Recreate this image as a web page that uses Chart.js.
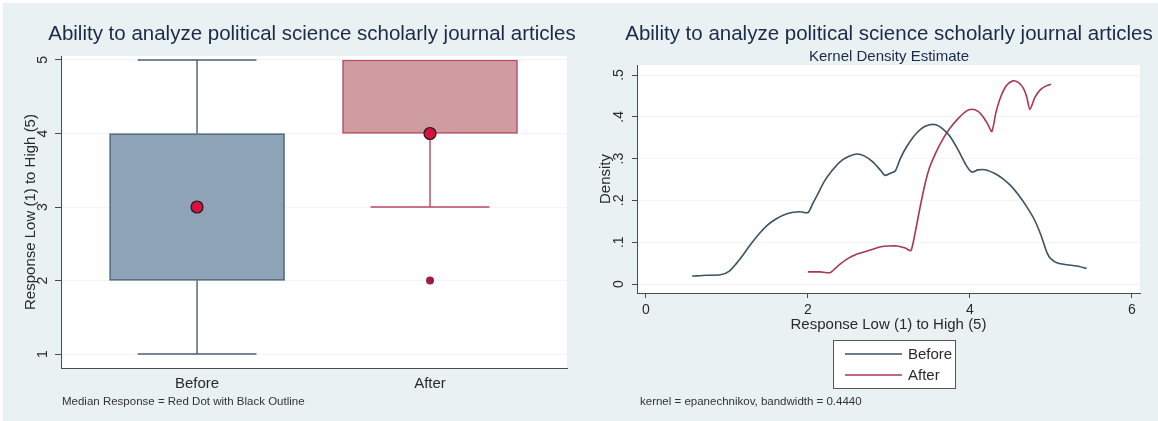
<!DOCTYPE html>
<html>
<head>
<meta charset="utf-8">
<script src="https://cdn.jsdelivr.net/npm/chart.js@4.4.1/dist/chart.umd.min.js"></script>
<style>
  html, body { margin: 0; padding: 0; background: #ffffff; }
  #wrap { position: relative; width: 1158px; height: 421px; background: #e9f1f3; overflow: hidden; }
  canvas { position: absolute; top: 0; }
  #boxCanvas { left: 0; }
  #kdeCanvas { left: 590px; }
  .edgeTop { position: absolute; left: 0; top: 0; width: 1158px; height: 3px; background: #fff; }
  .edgeLeft { position: absolute; left: 0; top: 0; width: 3px; height: 421px; background: #fff; }
  .txt { position: absolute; font-family: "Liberation Sans", Arial, sans-serif; white-space: nowrap; }
  .title { font-size: 20.5px; line-height: 24px; color: #1b2a46; transform: translateX(-50%); }
  .sub { font-size: 15px; line-height: 18px; color: #1b2a46; transform: translateX(-50%); }
  .note { font-size: 11.5px; line-height: 14px; color: #333; }
</style>
</head>
<body>
<div id="wrap">
  <div class="edgeTop"></div>
  <div class="edgeLeft"></div>
  <canvas id="boxCanvas" width="595" height="421"></canvas>
  <canvas id="kdeCanvas" width="568" height="421"></canvas>
  <div class="txt title" style="left:312px; top:21px;">Ability to analyze political science scholarly journal articles</div>
  <div class="txt title" style="left:889px; top:21px;">Ability to analyze political science scholarly journal articles</div>
  <div class="txt sub" style="left:889px; top:47px;">Kernel Density Estimate</div>
  <div class="txt note" style="left:62px; top:394px;">Median Response = Red Dot with Black Outline</div>
  <div class="txt note" style="left:640px; top:394px;">kernel = epanechnikov, bandwidth = 0.4440</div>
</div>
<script>
// ---------------- Data: box plot ----------------
const groups        = ['Before', 'After'];
const groupPos      = [1, 2];
const q1            = [2, 4];
const q3            = [4, 5];
const medians       = [3, 4];
const whiskerLow    = [1, 3];
const whiskerHigh   = [5, 5];
const outliers      = [[], [2]];
const boxYTicks     = [1, 2, 3, 4, 5];

// ---------------- Data: kernel density ----------------
const beforeX = [0.57,0.75,0.92,1.03,1.12,1.20,1.30,1.40,1.50,1.60,1.70,1.80,1.90,2.00,2.06,2.12,2.20,2.30,2.40,2.50,2.60,2.70,2.80,2.90,2.95,3.03,3.08,3.14,3.21,3.30,3.40,3.50,3.58,3.66,3.75,3.85,3.95,4.02,4.10,4.20,4.30,4.40,4.50,4.60,4.70,4.80,4.88,4.95,5.00,5.08,5.20,5.32,5.44];
const beforeY = [0.019,0.021,0.022,0.031,0.050,0.070,0.097,0.121,0.141,0.155,0.165,0.171,0.173,0.171,0.193,0.215,0.245,0.272,0.293,0.305,0.311,0.306,0.292,0.271,0.260,0.266,0.271,0.300,0.326,0.352,0.372,0.381,0.381,0.372,0.354,0.322,0.285,0.268,0.273,0.273,0.265,0.253,0.236,0.213,0.185,0.152,0.115,0.075,0.060,0.050,0.046,0.043,0.037];
const afterX  = [2.00,2.15,2.27,2.33,2.40,2.50,2.60,2.70,2.80,2.90,3.00,3.10,3.20,3.27,3.32,3.38,3.44,3.50,3.58,3.66,3.75,3.85,3.95,4.02,4.10,4.17,4.22,4.27,4.32,4.38,4.45,4.53,4.60,4.66,4.70,4.74,4.80,4.87,4.94,5.00];
const afterY  = [0.029,0.029,0.027,0.036,0.048,0.062,0.071,0.077,0.083,0.089,0.091,0.091,0.086,0.080,0.120,0.180,0.235,0.278,0.315,0.345,0.372,0.395,0.413,0.418,0.413,0.398,0.382,0.365,0.410,0.448,0.475,0.486,0.482,0.468,0.448,0.418,0.446,0.465,0.474,0.478];
const kdeXTicks      = [0, 2, 4, 6];
const kdeYTicks      = [0, 0.1, 0.2, 0.3, 0.4, 0.5];
const kdeYTickLabels = ['0', '.1', '.2', '.3', '.4', '.5'];

// ---------------- Styles ----------------
const FONT = '"Liberation Sans", Arial, sans-serif';
const AXIS_COLOR = '#4a4a4a';
const TEXT_COLOR = '#2a2a2a';
const GRID_COLOR = '#f3f4f4';
const boxFill   = ['#8fa3b6', '#cf9ca2'];
const boxBorder = ['#45617a', '#b9495e'];
const CAP_HALF  = 0.255;   // whisker cap half width (x units)

const plotBg = {
  id: 'plotBg',
  beforeDraw(chart) {
    const a = chart.chartArea, c = chart.ctx;
    c.save();
    c.fillStyle = '#ffffff';
    c.fillRect(a.left, a.top, a.right - a.left, a.bottom - a.top);
    c.restore();
  }
};

// whisker segments built from data values
function whiskerData(i) {
  const x = groupPos[i], pts = [];
  if (whiskerLow[i] < q1[i]) {
    pts.push({x: x, y: whiskerLow[i]}, {x: x, y: q1[i]}, {x: x, y: null});
    pts.push({x: x - CAP_HALF, y: whiskerLow[i]}, {x: x + CAP_HALF, y: whiskerLow[i]}, {x: x, y: null});
  }
  if (whiskerHigh[i] > q3[i]) {
    pts.push({x: x, y: q3[i]}, {x: x, y: whiskerHigh[i]}, {x: x, y: null});
    pts.push({x: x - CAP_HALF, y: whiskerHigh[i]}, {x: x + CAP_HALF, y: whiskerHigh[i]});
  }
  return pts;
}

const outlierPts = [];
outliers.forEach((arr, i) => arr.forEach(v => outlierPts.push({x: groupPos[i], y: v})));

new Chart(document.getElementById('boxCanvas'), {
  type: 'bar',
  data: {
    datasets: [
      { type: 'scatter', label: 'Median', order: 0,
        data: medians.map((m, i) => ({x: groupPos[i], y: m})),
        pointRadius: 6, pointBackgroundColor: '#d6113d', pointBorderColor: '#1a1a1a', pointBorderWidth: 1.2 },
      { type: 'scatter', label: 'Outliers', order: 1,
        data: outlierPts,
        pointRadius: 4, pointBackgroundColor: '#9c1d44', pointBorderColor: '#9c1d44', pointBorderWidth: 0 },
      { type: 'bar', label: 'IQR', order: 2,
        data: q1.map((v, i) => ({x: groupPos[i], y: [v, q3[i]]})),
        backgroundColor: boxFill, borderColor: boxBorder, borderWidth: 1.5, borderSkipped: false,
        barThickness: 175 },
      { type: 'line', label: 'Whisker Before', order: 3, data: whiskerData(0),
        borderColor: '#4b6075', borderWidth: 1.4, pointRadius: 0, spanGaps: false, tension: 0 },
      { type: 'line', label: 'Whisker After', order: 4, data: whiskerData(1),
        borderColor: '#b84a60', borderWidth: 1.4, pointRadius: 0, spanGaps: false, tension: 0 }
    ]
  },
  options: {
    responsive: false, animation: false,
    layout: { padding: { left: 0, top: 56, right: 28, bottom: 23 } },
    plugins: { legend: { display: false }, tooltip: { enabled: false } },
    scales: {
      x: {
        type: 'linear', min: 0.416, max: 2.588, offset: false,
        afterBuildTicks: s => { s.ticks = groupPos.map(v => ({value: v})); },
        afterFit: s => { s.height = 30; },
        ticks: { callback: (v) => groups[groupPos.indexOf(v)], font: { family: FONT, size: 15 }, color: TEXT_COLOR, padding: 7, maxRotation: 0 },
        grid: { offset: false, drawOnChartArea: false, drawTicks: false },
        border: { display: true, color: AXIS_COLOR, width: 1 }
      },
      y: {
        type: 'linear', min: 0.81, max: 5.054, beginAtZero: false,
        afterBuildTicks: s => { s.ticks = boxYTicks.map(v => ({value: v})); },
        afterFit: s => { s.width = 61; },
        ticks: { font: { family: FONT, size: 14 }, color: TEXT_COLOR, minRotation: 90, maxRotation: 90, crossAlign: 'center', padding: 8 },
        grid: { color: GRID_COLOR, tickColor: AXIS_COLOR, tickLength: 6 },
        border: { display: true, color: AXIS_COLOR, width: 1 },
        title: { display: true, text: 'Response Low (1) to High (5)', font: { family: FONT, size: 15 }, color: TEXT_COLOR, padding: { top: 22, bottom: 0 } }
      }
    }
  },
  plugins: [plotBg]
});

// ---------------- KDE chart ----------------
const kdeLegend = {
  id: 'kdeLegend',
  afterDraw(chart) {
    const c = chart.ctx;
    const bx = 243, by = 340, bw = 122, bh = 48;
    c.save();
    c.fillStyle = '#ffffff';
    c.fillRect(bx, by, bw, bh);
    c.strokeStyle = '#555555';
    c.lineWidth = 1;
    c.strokeRect(bx + 0.5, by + 0.5, bw, bh);
    c.font = '15px ' + FONT;
    c.textBaseline = 'middle';
    c.textAlign = 'left';
    chart.data.datasets.forEach((ds, i) => {
      const y = by + 14 + i * 21;
      c.strokeStyle = ds.borderColor;
      c.lineWidth = 1.6;
      c.beginPath(); c.moveTo(bx + 12, y); c.lineTo(bx + 69, y); c.stroke();
      c.fillStyle = TEXT_COLOR;
      c.fillText(ds.label, bx + 75, y + 1);
    });
    c.restore();
  }
};

new Chart(document.getElementById('kdeCanvas'), {
  type: 'line',
  data: {
    datasets: [
      { label: 'Before', data: beforeX.map((x, i) => ({x: x, y: beforeY[i]})),
        borderColor: '#3a5262', borderWidth: 1.6, pointRadius: 0, tension: 0.25, fill: false },
      { label: 'After', data: afterX.map((x, i) => ({x: x, y: afterY[i]})),
        borderColor: '#a8384f', borderWidth: 1.6, pointRadius: 0, tension: 0.25, fill: false }
    ]
  },
  options: {
    responsive: false, animation: false,
    layout: { padding: { left: 0, top: 65, right: 18, bottom: 87 } },
    plugins: { legend: { display: false }, tooltip: { enabled: false } },
    scales: {
      x: {
        type: 'linear', min: -0.111, max: 6.099,
        afterBuildTicks: s => { s.ticks = kdeXTicks.map(v => ({value: v})); },
        afterFit: s => { s.height = 41; },
        ticks: { font: { family: FONT, size: 14 }, color: TEXT_COLOR, padding: 4, maxRotation: 0 },
        grid: { drawOnChartArea: false, tickColor: AXIS_COLOR, tickLength: 5 },
        border: { display: true, color: AXIS_COLOR, width: 1 },
        title: { display: true, text: 'Response Low (1) to High (5)', font: { family: FONT, size: 15 }, color: TEXT_COLOR, padding: 0 }
      },
      y: {
        type: 'linear', min: -0.0215, max: 0.524,
        afterBuildTicks: s => { s.ticks = kdeYTicks.map(v => ({value: v})); },
        afterFit: s => { s.width = 47; },
        ticks: { callback: (v, i) => kdeYTickLabels[i], font: { family: FONT, size: 14 }, color: TEXT_COLOR, minRotation: 90, maxRotation: 90, crossAlign: 'center', padding: 7 },
        grid: { color: GRID_COLOR, tickColor: AXIS_COLOR, tickLength: 5 },
        border: { display: true, color: AXIS_COLOR, width: 1 },
        title: { display: true, text: 'Density', font: { family: FONT, size: 15 }, color: TEXT_COLOR, padding: { top: 7, bottom: 0 } }
      }
    }
  },
  plugins: [plotBg, kdeLegend]
});
</script>
</body>
</html>
